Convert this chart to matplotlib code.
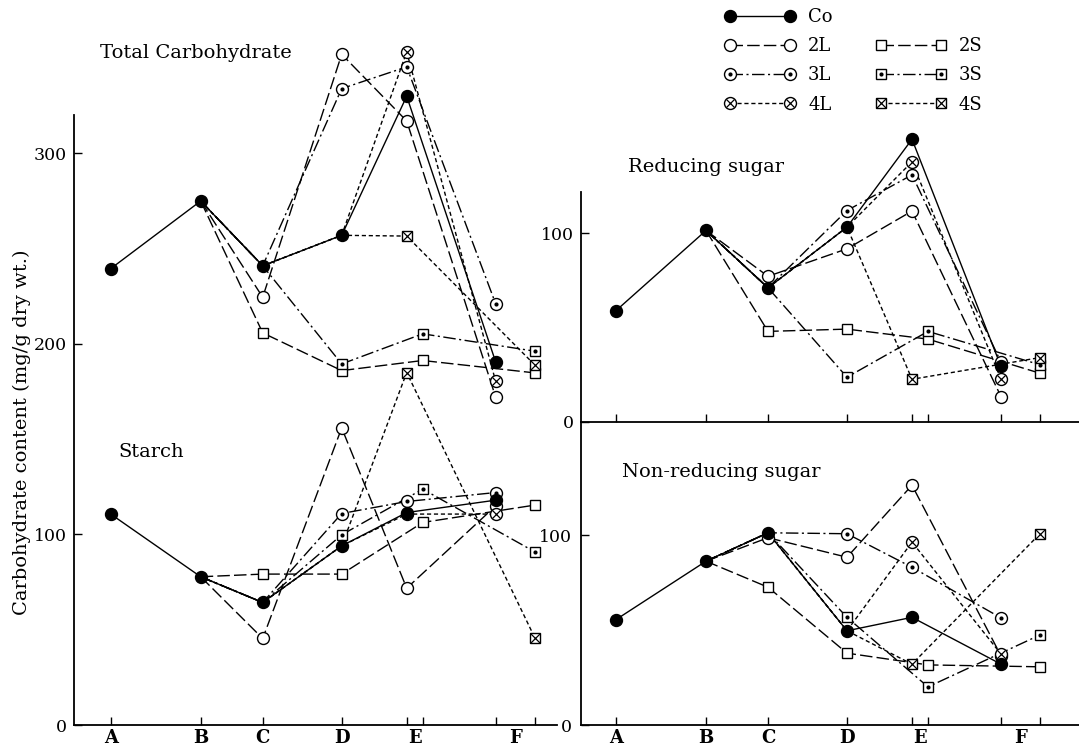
import matplotlib.pyplot as plt
from matplotlib.lines import Line2D

W, H = 1079, 749

# sampling dates on the time axis
sample_x = {"A": 0, "B": 90, "C": 152, "D": 231, "E": 296, "E2": 312, "F": 385, "F2": 424}
date_labels = ["A", "B", "C", "D", "E", "F"]
date_label_x = [0, 90, 152, 231, 304, 405]

treatments = ["Co", "2L", "3L", "4L", "2S", "3S", "4S"]
series_dates = {
    "Co": ["A", "B", "C", "D", "E", "F"],
    "2L": ["B", "C", "D", "E", "F"],
    "3L": ["B", "C", "D", "E", "F"],
    "4L": ["B", "C", "D", "E", "F"],
    "2S": ["B", "C", "D", "E2", "F2"],
    "3S": ["B", "C", "D", "E2", "F2"],
    "4S": ["B", "C", "D", "E", "F2"],
}

# mg/g dry wt.; None = same sample as the control on that date
total_carb = {
    "Co": [239.5, 275, 241, 257, 330, 190.5],
    "2L": [None, 224.5, 352, 317, 172],
    "3L": [None, None, 334, 345.4, 221],
    "4L": [None, None, None, 353.3, 180.3],
    "2S": [None, 205.8, 186, 191.3, 184.8],
    "3S": [None, None, 189.5, 205.3, 196.2],
    "4S": [None, None, None, 256.6, 189],
}
starch = {
    "Co": [110.7, 77.8, 64.3, 94, 111.5, 118],
    "2L": [None, 45.4, 155.9, 71.8, 115],
    "3L": [None, None, 111, 117.3, 122],
    "4L": [None, None, None, 110.7, 110.7],
    "2S": [None, 79.2, 79.2, 106.3, 115.4],
    "3S": [None, None, 99.8, 123.8, 90.9],
    "4S": [None, None, None, 185, 45.9],
}
reducing = {
    "Co": [58.9, 101.4, 71, 103.2, 149.8, 29.3],
    "2L": [None, 77.1, 91.7, 111.7, 13.3],
    "3L": [None, None, 112, 130.9, 31.6],
    "4L": [None, None, None, 137.8, 22.6],
    "2S": [None, 47.9, 49.1, 43.8, 25.7],
    "3S": [None, None, 23.6, 47.9, 30.2],
    "4S": [None, None, None, 22.5, 34],
}
non_reducing = {
    "Co": [55.6, 86.4, 101.4, 49.7, 56.8, 32.1],
    "2L": [None, 98.8, 88.5, 126.5, 36.5],
    "3L": [None, None, 100.9, 83.2, 56.5],
    "4L": [None, None, None, 96.5, 37.4],
    "2S": [None, 72.7, 37.9, 31.7, 30.7],
    "3S": [None, None, 56.8, 20.1, 47.5],
    "4S": [None, None, None, 32.1, 100.9],
}

long_dash = (0, (9, 3))
dash_dot = (0, (9, 2.5, 1.5, 2.5))
short_dash = (0, (3, 2))
styles = {
    "Co": dict(ls="-", outer="o", fill="black", inner=None),
    "2L": dict(ls=long_dash, outer="o", fill="white", inner=None),
    "3L": dict(ls=dash_dot, outer="o", fill="white", inner="."),
    "4L": dict(ls=short_dash, outer="o", fill="white", inner="x"),
    "2S": dict(ls=long_dash, outer="s", fill="white", inner=None),
    "3S": dict(ls=dash_dot, outer="s", fill="white", inner="."),
    "4S": dict(ls=short_dash, outer="s", fill="white", inner="x"),
}


def marker_kw(st):
    ms = 8.6 if st["outer"] == "o" else 7.6
    return dict(marker=st["outer"], ms=ms, mfc=st["fill"], mec="black", mew=1.0)


def inner_kw(st):
    if st["inner"] == ".":
        return dict(marker="o", ms=3.0, mfc="black", mec="black", mew=0)
    ms = 6.0 if st["outer"] == "o" else 7.4
    return dict(marker="x", ms=ms, mec="black", mew=0.9)


def draw_panel(ax, values):
    co = dict(zip(series_dates["Co"], values["Co"]))
    for k, name in enumerate(treatments):
        st = styles[name]
        dates = series_dates[name]
        ys = values[name]
        xs = [sample_x[d] for d in dates]
        line_y = [co[d] if v is None else v for d, v in zip(dates, ys)]
        ax.plot(xs, line_y, color="black", lw=1.0, ls=st["ls"], zorder=2, clip_on=False)
        pts = [(x, v) for x, v in zip(xs, ys) if v is not None]
        mx, my = zip(*pts)
        z = 5 + k * 0.1 if name != "Co" else 6
        ax.plot(mx, my, ls="none", zorder=z, clip_on=False, **marker_kw(st))
        if st["inner"]:
            ax.plot(mx, my, ls="none", color="black", zorder=z + 0.05, clip_on=False, **inner_kw(st))


def px_axes(fig, x0, y0, x1, y1):
    return fig.add_axes([x0 / W, 1 - y1 / H, (x1 - x0) / W, (y1 - y0) / H])


def style_axes(ax, xlim, ylim, spine_top, yticks, xlabels=True):
    ax.set_facecolor("none")
    ax.set_xlim(*xlim)
    ax.set_ylim(*ylim)
    for s in ("top", "right"):
        ax.spines[s].set_visible(False)
    ax.spines["left"].set_bounds(0, spine_top)
    for s in ("left", "bottom"):
        ax.spines[s].set_linewidth(1.3)
    ax.set_yticks(yticks)
    ax.set_xticks(list(sample_x.values()))
    ax.set_xticklabels([])
    ax.tick_params(axis="both", which="major", direction="in", length=6, width=1.0, labelsize=12.5, pad=5)
    if xlabels:
        # labels sit on minor ticks, some of which share a spot with a major tick
        ax.xaxis.remove_overlapping_locs = False
        ax.set_xticks(date_label_x, minor=True)
        ax.set_xticklabels(date_labels, minor=True, fontsize=13, fontweight="bold")
        ax.tick_params(axis="x", which="minor", length=0, pad=3)


plt.rcParams["font.family"] = ["DejaVu Serif"]
fig = plt.figure(figsize=(W / 100, H / 100), dpi=100)

# left: total carbohydrate and starch share one axis
ax_l = px_axes(fig, 74, 20, 557, 725)
style_axes(ax_l, (-36.7, 446.3), (0, 370), 320, [0, 100, 200, 300])
draw_panel(ax_l, total_carb)
draw_panel(ax_l, starch)

# right: reducing sugar above, non-reducing sugar below
ax_r = px_axes(fig, 580.7, 120, 1079, 421.7)
style_axes(ax_r, (-35.3, 463), (0, 160), 122, [0, 100], xlabels=False)
draw_panel(ax_r, reducing)

ax_n = px_axes(fig, 580.7, 421.7, 1079, 725)
style_axes(ax_n, (-35.3, 463), (0, 160), 160, [0, 100])
ax_n.tick_params(axis="y", pad=6)
draw_panel(ax_n, non_reducing)

title_kw = dict(fontsize=14, va="center", ha="left")
fig.text(100 / W, 1 - 53 / H, "Total Carbohydrate", **title_kw)
fig.text(118 / W, 1 - 452 / H, "Starch", **title_kw)
fig.text(628 / W, 1 - 167 / H, "Reducing sugar", **title_kw)
fig.text(622 / W, 1 - 472 / H, "Non-reducing sugar", **title_kw)
fig.text(22 / W, 1 - 432 / H, "Carbohydrate content (mg/g dry wt.)",
         rotation=90, va="center", ha="center", fontsize=14)

# legend: composite markers built from an outer shape and an inner sign
handles, labels = [], []
for name in treatments:
    st = styles[name]
    parts = [Line2D([], [], color="black", lw=1.0, ls=st["ls"], **marker_kw(st))]
    if st["inner"]:
        parts.append(Line2D([], [], ls="none", color="black", **inner_kw(st)))
    handles.append(tuple(parts))
    labels.append(name)
    if name == "4L":
        handles.append(Line2D([], [], ls="none"))
        labels.append("")
fig.legend(handles, labels, ncol=2, loc="upper left", bbox_to_anchor=(725 / W, 1 - 8 / H),
           frameon=False, numpoints=2, handlelength=3.9, handletextpad=0.7,
           columnspacing=2.4, labelspacing=0.62, fontsize=13, borderpad=0, borderaxespad=0)

fig.savefig("out.png", dpi=100)
